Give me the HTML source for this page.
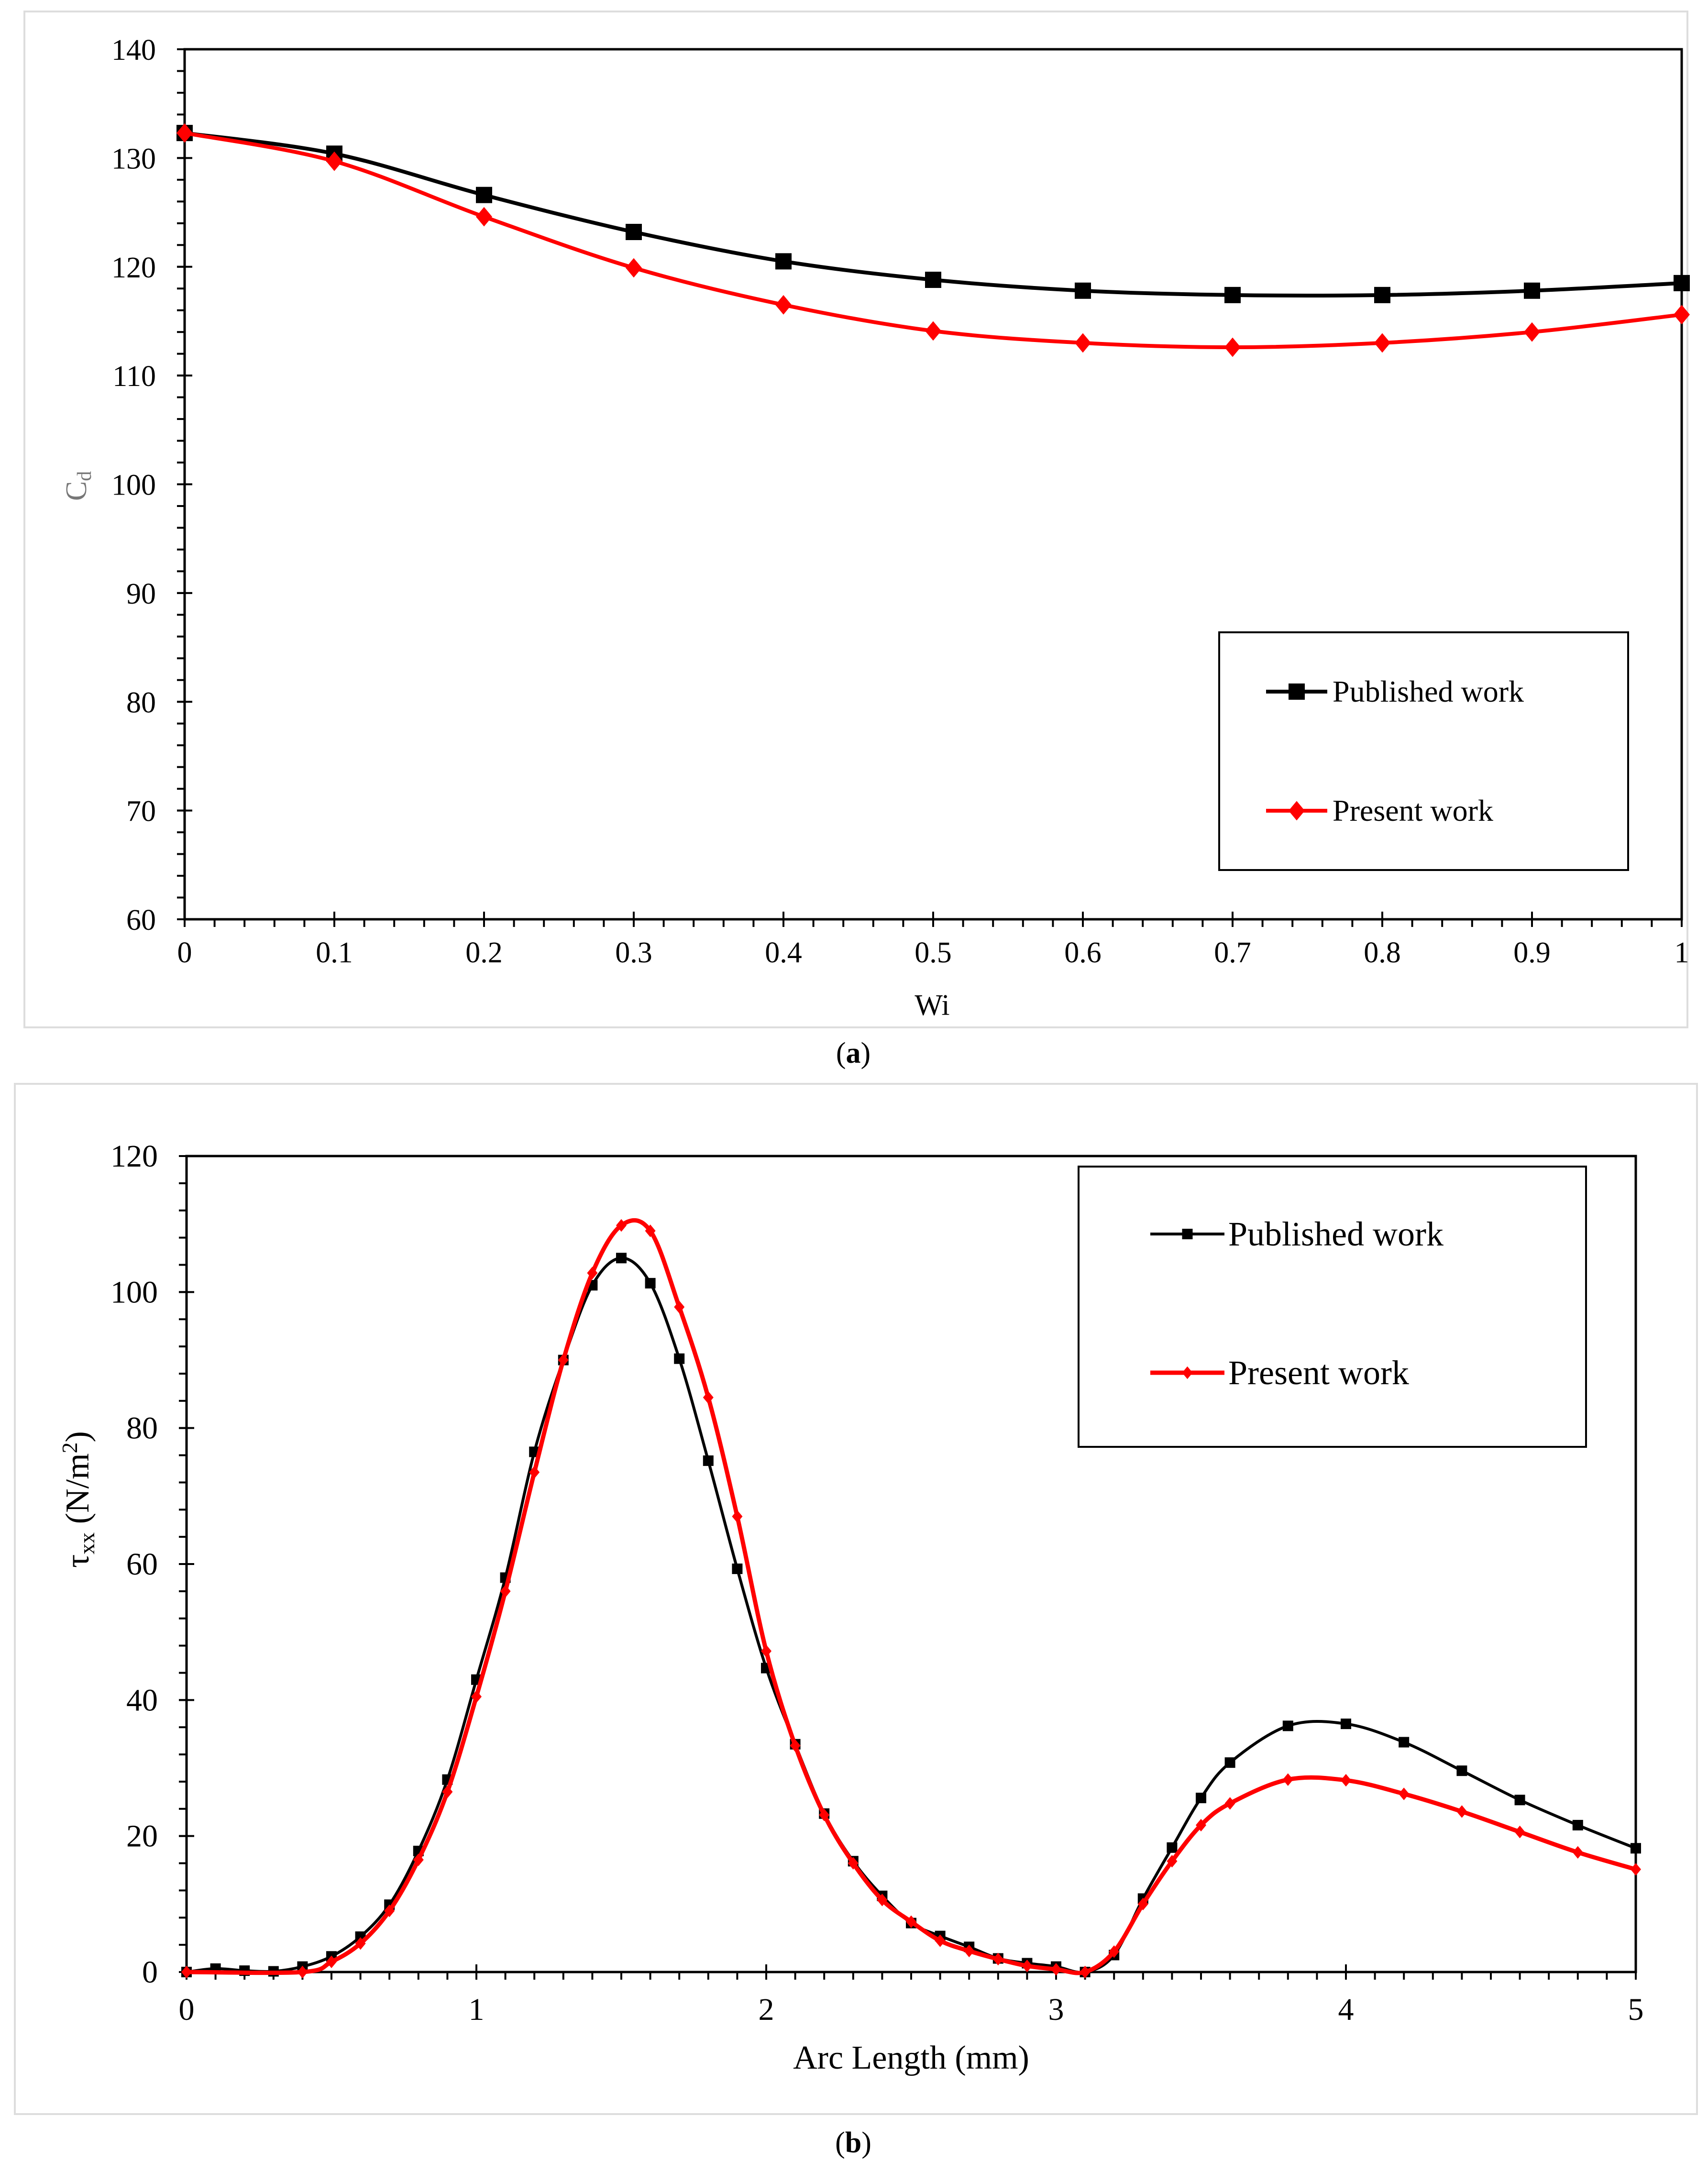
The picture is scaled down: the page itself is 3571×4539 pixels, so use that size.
<!DOCTYPE html>
<html><head><meta charset="utf-8"><style>
html,body{margin:0;padding:0;background:#fff}
svg{display:block;font-family:"Liberation Serif",serif}
</style></head><body>
<svg id="fig" width="3571" height="4539" viewBox="0 0 3571 4539" xmlns="http://www.w3.org/2000/svg">
<rect x="0" y="0" width="3571" height="4539" fill="#fff"/>
<rect x="51" y="24" width="3477" height="2124" fill="none" stroke="#ddd" stroke-width="4"/>
<rect x="31" y="2266" width="3517" height="2154" fill="none" stroke="#ddd" stroke-width="4"/>
<g id="ga"></g>
<g id="gb"></g>
<text x="1784" y="2222" font-size="62" text-anchor="middle">(<tspan font-weight="bold">a</tspan>)</text>
<text x="1784" y="4500" font-size="62" text-anchor="middle">(<tspan font-weight="bold">b</tspan>)</text>
</svg>
<script>
// ---- Chart A data ----
const aX = [0,0.1,0.2,0.3,0.4,0.5,0.6,0.7,0.8,0.9,1];
const aPublished = [132.3,130.4,126.6,123.2,120.5,118.8,117.8,117.4,117.4,117.8,118.5];
const aPresent = [132.3,129.7,124.6,119.9,116.5,114.1,113.0,112.6,113.0,114.0,115.6];
const aYTicks = [60,70,80,90,100,110,120,130,140];
const aXTicks = [0,0.1,0.2,0.3,0.4,0.5,0.6,0.7,0.8,0.9,1];
// ---- Chart B data ----
const bXPub = [0,0.1,0.2,0.3,0.4,0.5,0.6,0.7,0.8,0.9,1.0,1.1,1.2,1.3,1.4,1.5,1.6,1.7,1.8,1.9,2.0,2.1,2.2,2.3,2.4,2.5,2.6,2.7,2.8,2.9,3.0,3.1,3.2,3.3,3.4,3.5,3.6,3.8,4.0,4.2,4.4,4.6,4.8,5.0];
const bPublished = [0,0.5,0.2,0.1,0.8,2.3,5.2,9.9,17.8,28.3,43,58,76.5,90,101,105,101.3,90.2,75.2,59.3,44.7,33.5,23.3,16.3,11.2,7.2,5.3,3.7,2.0,1.3,0.8,0,2.5,10.8,18.3,25.6,30.8,36.2,36.5,33.8,29.6,25.3,21.6,18.2];
const bXPre = [0,0.4,0.5,0.6,0.7,0.8,0.9,1.0,1.1,1.2,1.3,1.4,1.5,1.6,1.7,1.8,1.9,2.0,2.1,2.2,2.3,2.4,2.5,2.6,2.7,2.8,2.9,3.0,3.1,3.2,3.3,3.4,3.5,3.6,3.8,4.0,4.2,4.4,4.6,4.8,5.0];
const bPresent = [0,0,1.5,4.2,9,16.5,26.5,40.5,56,73.5,90,102.8,109.8,109,97.8,84.5,67,47.2,33.3,23.1,16,10.6,7.4,4.6,3.1,1.9,0.9,0.4,0,3,10,16.3,21.6,24.8,28.3,28.2,26.2,23.6,20.6,17.6,15.1];
const bYTicks = [0,20,40,60,80,100,120];
const bXTicks = [0,1,2,3,4,5];

const NS="http://www.w3.org/2000/svg";
function mk(parent,tag,attrs,text){const e=document.createElementNS(NS,tag);for(const k in attrs)e.setAttribute(k,attrs[k]);if(text!==undefined)e.textContent=text;parent.appendChild(e);return e;}
function smooth(pts){let d="M"+pts[0][0]+","+pts[0][1];for(let i=0;i<pts.length-1;i++){const p0=pts[Math.max(0,i-1)],p1=pts[i],p2=pts[i+1],p3=pts[Math.min(pts.length-1,i+2)];const t=0.5/3;const c1=[p1[0]+(p2[0]-p0[0])*t,p1[1]+(p2[1]-p0[1])*t];const c2=[p2[0]-(p3[0]-p1[0])*t,p2[1]-(p3[1]-p1[1])*t];d+=" C"+c1[0]+","+c1[1]+" "+c2[0]+","+c2[1]+" "+p2[0]+","+p2[1];}return d;}

function chart(g,cfg){
  const sx=v=>cfg.x0+(v-cfg.xmin)/(cfg.xmax-cfg.xmin)*(cfg.x1-cfg.x0);
  const sy=v=>cfg.y0-(v-cfg.ymin)/(cfg.ymax-cfg.ymin)*(cfg.y0-cfg.y1);
  const box=mk(g,'rect',{x:cfg.x0,y:cfg.y1,width:cfg.x1-cfg.x0,height:cfg.y0-cfg.y1,fill:'none',stroke:'#000','stroke-width':5});
  
  
  for(let v=cfg.ymin;v<=cfg.ymax+1e-9;v+=cfg.ymStep){const y=sy(v);mk(g,'line',{x1:cfg.x0-16,x2:cfg.x0,y1:y,y2:y,stroke:'#000','stroke-width':4});}
  for(let v=cfg.xmin;v<=cfg.xmax+1e-9;v+=cfg.xmStep){const x=sx(v);mk(g,'line',{x1:x,x2:x,y1:cfg.y0,y2:cfg.y0+16,stroke:'#000','stroke-width':4});}
  cfg.yTicks.forEach(v=>{const y=sy(v);mk(g,'line',{x1:cfg.x0-16,x2:cfg.x0+16,y1:y,y2:y,stroke:'#000','stroke-width':4});
    const t=mk(g,'text',{x:cfg.x0-60,y:y+22,'font-size':cfg.fs,'text-anchor':'end'},String(v));
    
    });
  cfg.xTicks.forEach(v=>{const x=sx(v);mk(g,'line',{x1:x,x2:x,y1:cfg.y0-16,y2:cfg.y0+16,stroke:'#000','stroke-width':4});
    const t=mk(g,'text',{x:x,y:cfg.y0+cfg.xlOff,'font-size':cfg.fs,'text-anchor':'middle'},String(v));
    
    });
  cfg.series.forEach(s=>{
    const pts=s.x.map((xv,i)=>[sx(xv),sy(s.y[i])]);
    const p=mk(g,'path',{d:smooth(pts),fill:'none',stroke:s.color,'stroke-width':s.lw||cfg.lw});
    
    
    pts.forEach(pt=>{let m;const r=cfg.ms;
      if(s.shape==='sq')m=mk(g,'rect',{x:pt[0]-r,y:pt[1]-r,width:2*r,height:2*r,fill:s.color});
      else m=mk(g,'polygon',{points:`${pt[0]},${pt[1]-r*1.2} ${pt[0]+r},${pt[1]} ${pt[0]},${pt[1]+r*1.2} ${pt[0]-r},${pt[1]}`,fill:s.color});
      
      });
  });
  const L=cfg.leg;
  const lb=mk(g,'rect',{x:L.x,y:L.y,width:L.w,height:L.h,fill:'#fff',stroke:'#000','stroke-width':4});
  
  
  cfg.series.forEach((s,i)=>{const y=L.ey[i];
    mk(g,'line',{x1:L.lx0,x2:L.lx1,y1:y,y2:y,stroke:s.color,'stroke-width':s.lw||cfg.lw});
    const c=(L.lx0+L.lx1)/2,r=cfg.ms;
    if(s.shape==='sq')mk(g,'rect',{x:c-r,y:y-r,width:2*r,height:2*r,fill:s.color});
    else mk(g,'polygon',{points:`${c},${y-r*1.2} ${c+r},${y} ${c},${y+r*1.2} ${c-r},${y}`,fill:s.color});
    const t=mk(g,'text',{x:L.tx,y:y+L.fs*0.33,'font-size':L.fs},s.label);
    
    });
}

chart(document.getElementById('ga'),{x0:386,x1:3516,y0:1922,y1:103,xmin:0,xmax:1,ymin:60,ymax:140,
  ymStep:2,xmStep:0.02,yTicks:aYTicks,xTicks:aXTicks,fs:62,xlOff:90,lw:8,ms:17,
  series:[{name:'published',label:'Published work',x:aX,y:aPublished,color:'#000',shape:'sq'},
          {name:'present',label:'Present work',x:aX,y:aPresent,color:'#f00',shape:'di'}],
  leg:{x:2549,y:1322,w:855,h:497,ey:[1446,1695],lx0:2647,lx1:2775,tx:2786,fs:64}});
chart(document.getElementById('gb'),{x0:390,x1:3420,y0:4123,y1:2417,xmin:0,xmax:5,ymin:0,ymax:120,
  ymStep:4,xmStep:0.1,yTicks:bYTicks,xTicks:bXTicks,fs:66,xlOff:100,lw:6,ms:11,
  series:[{name:'published',label:'Published work',x:bXPub,y:bPublished,color:'#000',shape:'sq'},
          {name:'present',label:'Present work',x:bXPre,y:bPresent,color:'#f00',shape:'di',lw:9}],
  leg:{x:2255,y:2439,w:1061,h:586,ey:[2580,2870],lx0:2405,lx1:2560,tx:2568,fs:72}});

const ga=document.getElementById('ga'),gb=document.getElementById('gb');
let t;
t=mk(ga,'text',{x:1949,y:2122,'font-size':62,'text-anchor':'middle'},'Wi');


t=mk(ga,'text',{x:0,y:0,'font-size':62,fill:'#777','text-anchor':'middle',transform:'translate(180,1016) rotate(-90)'});
t.innerHTML='C<tspan font-size="42" dy="10">d</tspan>';


t=mk(gb,'text',{x:1905,y:4325,'font-size':70,'text-anchor':'middle'},'Arc Length (mm)');


t=mk(gb,'text',{x:0,y:0,'font-size':70,'text-anchor':'middle',transform:'translate(185,3135) rotate(-90)'});
t.innerHTML='τ<tspan font-size="46" dy="12">xx</tspan><tspan dy="-12">  (N/m</tspan><tspan font-size="46" dy="-24">2</tspan><tspan dy="24">)</tspan>';


</script>
</body></html>
